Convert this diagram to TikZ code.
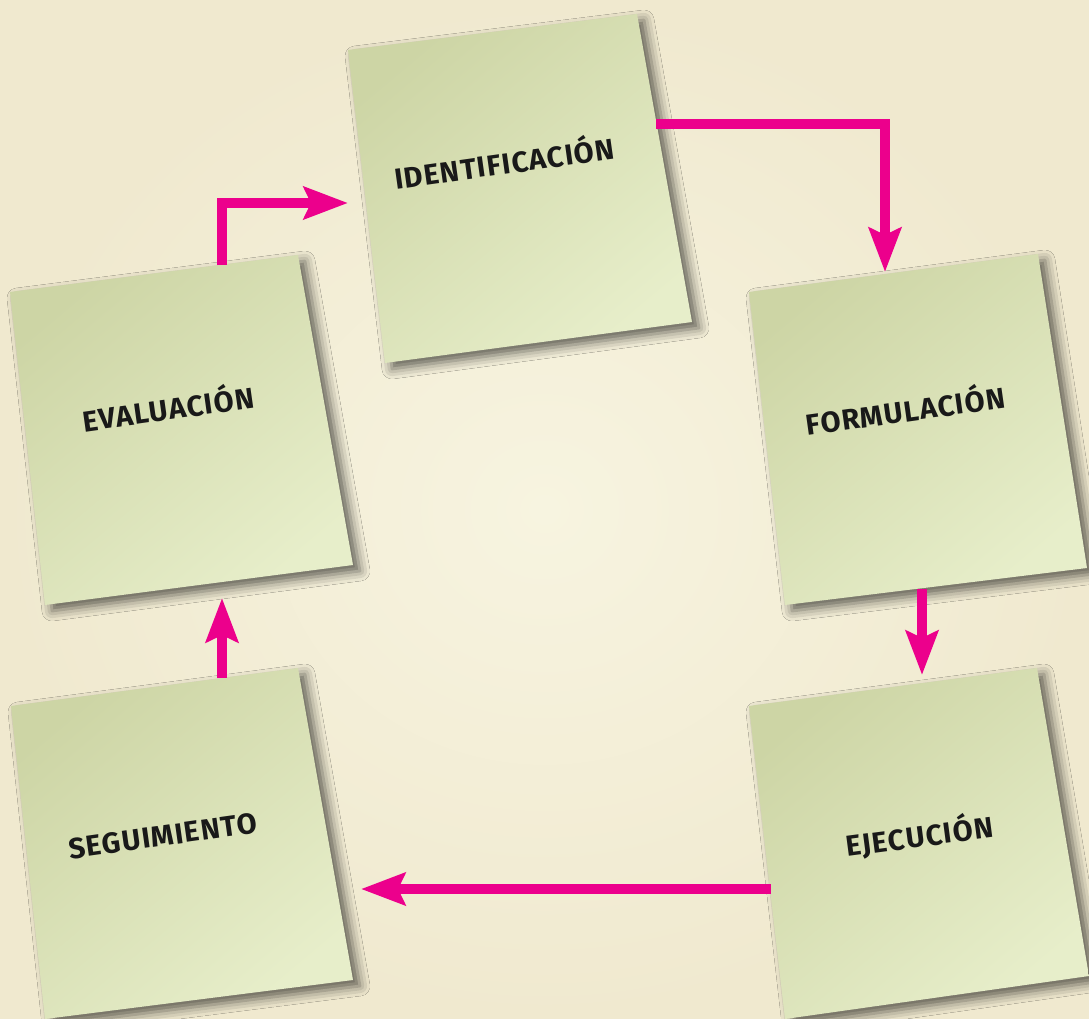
\documentclass[tikz,border=0pt]{standalone}
\usepackage{fontspec}
\newfontfamily\notefont{Fira Sans}[LetterSpace=4]
\usetikzlibrary{arrows.meta, shadows.blur}
\definecolor{paper}{RGB}{247,244,224}
\definecolor{paperedge}{RGB}{240,233,207}
\definecolor{notedark}{RGB}{205,213,165}
\definecolor{notelight}{RGB}{231,238,202}
\definecolor{flowpink}{RGB}{236,0,140}
\tikzset{
    note/.style={blur shadow={shadow xshift=7pt, shadow yshift=-6pt, shadow blur radius=10pt, shadow opacity=60}, top color=notedark, bottom color=notelight, shading angle=40},
    notelabel/.style={font=\notefont\bfseries\fontsize{29}{31}\selectfont, text=black!90, inner sep=0pt, anchor=base, rotate=8},
    flow/.style={draw=flowpink, line width=10pt, -{Stealth[length=44pt, width=32pt, inset=7pt]}}
}
\begin{document}
\begin{tikzpicture}[x=1pt, y=-1pt]
            \useasboundingbox (0, 0) rectangle (1089, 1019);
            \shade [inner color=paper, outer color=paperedge] (0, 0) rectangle (1089, 1019);
            \coordinate (id-tl) at (348, 50);
            \coordinate (id-tr) at (637, 14);
            \coordinate (id-br) at (692, 322);
            \coordinate (id-bl) at (385, 363);
            \coordinate (fo-tl) at (749, 292);
            \coordinate (fo-tr) at (1038, 254);
            \coordinate (fo-br) at (1087, 568);
            \coordinate (fo-bl) at (785, 605);
            \coordinate (ej-tl) at (749, 706);
            \coordinate (ej-tr) at (1037, 668);
            \coordinate (ej-br) at (1089, 976);
            \coordinate (ej-bl) at (785, 1019);
            \coordinate (se-tl) at (11, 706);
            \coordinate (se-tr) at (298, 668);
            \coordinate (se-br) at (353, 980);
            \coordinate (se-bl) at (45, 1019);
            \coordinate (ev-tl) at (10, 292);
            \coordinate (ev-tr) at (298, 255);
            \coordinate (ev-br) at (353, 565);
            \coordinate (ev-bl) at (45, 605);
            \path [note] (id-tl) -- (id-tr) -- (id-br) -- (id-bl) -- cycle;
            \path [note] (fo-tl) -- (fo-tr) -- (fo-br) -- (fo-bl) -- cycle;
            \path [note] (ej-tl) -- (ej-tr) -- (ej-br) -- (ej-bl) -- cycle;
            \path [note] (se-tl) -- (se-tr) -- (se-br) -- (se-bl) -- cycle;
            \path [note] (ev-tl) -- (ev-tr) -- (ev-br) -- (ev-bl) -- cycle;
            \node [notelabel] (ident) at (506, 174) {IDENTIFICACIÓN};
            \node [notelabel] (formu) at (907, 422) {FORMULACIÓN};
            \node [notelabel, rotate=-0.5] (ejec) at (921, 847) {EJECUCIÓN};
            \node [notelabel] (segui) at (164, 846) {SEGUIMIENTO};
            \node [notelabel] (evalu) at (170, 420) {EVALUACIÓN};
            \coordinate (ev-out) at (222, 265);
            \coordinate (id-in) at (348, 203);
            \coordinate (id-out) at (656, 124);
            \coordinate (fo-in) at (885, 272);
            \coordinate (fo-out) at (922, 589);
            \coordinate (ej-in) at (922, 675);
            \coordinate (ej-out) at (771, 889);
            \coordinate (se-in) at (361, 889);
            \coordinate (se-out) at (222, 678);
            \coordinate (ev-in) at (222, 598);
            \draw [flow] (ev-out) |- (id-in);
            \draw [flow] (id-out) -| (fo-in);
            \draw [flow] (fo-out) -- (ej-in);
            \draw [flow] (ej-out) -- (se-in);
            \draw [flow] (se-out) -- (ev-in);
        \end{tikzpicture}
\end{document}
